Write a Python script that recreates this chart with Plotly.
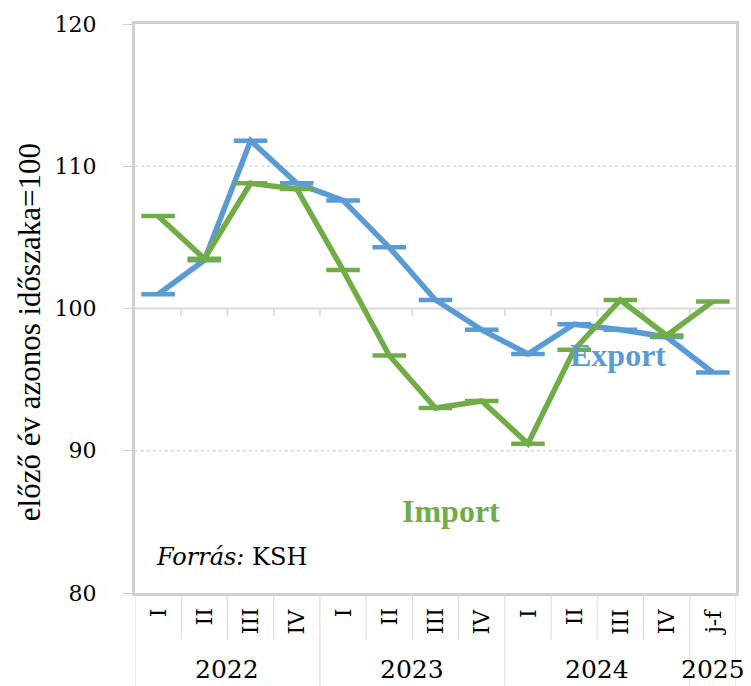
import plotly.graph_objects as go

years = ["2022", "2022", "2022", "2022", "2023", "2023", "2023", "2023",
         "2024", "2024", "2024", "2024", "2025"]
quarters = ["I", "II", "III", "IV", "I", "II", "III", "IV", "I", "II", "III", "IV", "j-f"]
export_vals = [101.0, 103.4, 111.8, 108.8, 107.6, 104.3, 100.6, 98.5, 96.8, 98.9, 98.5, 98.0, 95.5]
import_vals = [106.5, 103.5, 108.8, 108.4, 102.7, 96.7, 93.0, 93.5, 90.5, 97.1, 100.6, 98.1, 100.5]
y_ticks = [80, 90, 100, 110, 120]

BLUE = "#5B9BD5"
GREEN = "#70AD47"
GRID = "#d9d9d9"
BORDER = "#d0d0d0"
SERIF = "DejaVu Serif"
TIMES = "Liberation Serif"

x = list(range(len(quarters)))

fig = go.Figure()
for vals, col in [(export_vals, BLUE), (import_vals, GREEN)]:
    fig.add_trace(go.Scatter(
        x=x, y=vals, mode="lines+markers",
        line=dict(color=col, width=5.5),
        marker=dict(symbol="line-ew", size=24, color=col,
                    line=dict(color=col, width=4.5)),
        showlegend=False, hoverinfo="skip"))

shapes = []
for g in [90, 110]:
    shapes.append(dict(type="line", xref="paper", yref="y", x0=0, x1=1, y0=g, y1=g,
                       line=dict(color=GRID, width=1.5, dash="dot"), layer="below"))
shapes.append(dict(type="line", xref="paper", yref="y", x0=0, x1=1, y0=100, y1=100,
                   line=dict(color=GRID, width=2), layer="below"))
for i in range(len(quarters) - 1):
    shapes.append(dict(type="line", xref="x", yref="y", x0=i + 0.5, x1=i + 0.5,
                       y0=100, y1=99.45, line=dict(color=GRID, width=1.5), layer="below"))

group_bounds = [-0.5]
for i in range(1, len(years)):
    if years[i] != years[i - 1]:
        group_bounds.append(i - 0.5)
group_bounds.append(len(years) - 0.5)
for i in range(len(quarters) + 1):
    b = i - 0.5
    y1 = -0.163 if b in group_bounds else -0.082
    shapes.append(dict(type="line", xref="x", yref="paper", x0=b, x1=b, y0=0, y1=y1,
                       line=dict(color=GRID, width=1)))

annotations = []
for i, q in enumerate(quarters):
    annotations.append(dict(x=i, y=-0.024, xref="x", yref="paper", text=q,
                            textangle=-90, showarrow=False, xanchor="center", yanchor="top",
                            font=dict(family=SERIF, size=22, color="#000000")))
for gi in range(len(group_bounds) - 1):
    a, b = group_bounds[gi], group_bounds[gi + 1]
    idx = int(a + 0.5)
    annotations.append(dict(x=(a + b) / 2, y=-0.135, xref="x", yref="paper",
                            text=years[idx], showarrow=False, xanchor="center", yanchor="middle",
                            font=dict(family=SERIF, size=25, color="#000000")))

annotations.append(dict(x=9.95, y=96.7, xref="x", yref="y", text="<b>Export</b>",
                        showarrow=False, xanchor="center", yanchor="middle",
                        font=dict(family=TIMES, size=32, color=BLUE)))
annotations.append(dict(x=6.33, y=85.8, xref="x", yref="y", text="<b>Import</b>",
                        showarrow=False, xanchor="center", yanchor="middle",
                        font=dict(family=TIMES, size=32, color=GREEN)))
annotations.append(dict(x=0.032, y=82.5, xref="paper", yref="y", text="<i>Forrás:</i> KSH",
                        showarrow=False, xanchor="left", yanchor="middle",
                        font=dict(family=SERIF, size=24, color="#000000")))
annotations.append(dict(x=-0.175, y=0.458, xref="paper", yref="paper",
                        text="előző év azonos időszaka=100", textangle=-90,
                        showarrow=False, xanchor="center", yanchor="middle",
                        font=dict(family=TIMES, size=31, color="#000000")))

fig.update_layout(
    width=751, height=686,
    margin=dict(l=135, r=13, t=23, b=93),
    paper_bgcolor="white", plot_bgcolor="white",
    shapes=shapes, annotations=annotations,
    xaxis=dict(range=[-0.5, len(quarters) - 0.5], showticklabels=False, showgrid=False,
               zeroline=False, showline=True, mirror=True, linecolor=BORDER, linewidth=3,
               ticks=""),
    yaxis=dict(range=[80, 120], tickvals=y_ticks, showgrid=False, zeroline=False,
               showline=True, mirror=True, linecolor=BORDER, linewidth=3,
               ticks="outside", ticklen=9, tickcolor=BORDER, tickwidth=1,
               ticklabelstandoff=22,
               tickfont=dict(family=SERIF, size=22, color="#000000")),
)

fig.write_html("out.html", config={"displayModeBar": False},
               post_script="document.body.style.margin='0';document.body.style.overflow='hidden';")
